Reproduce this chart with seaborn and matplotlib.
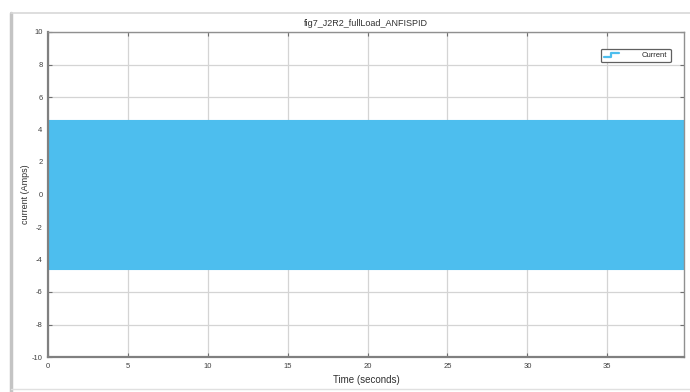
import matplotlib
matplotlib.use("Agg")
import matplotlib.pyplot as plt
import seaborn as sns
import pandas as pd
from matplotlib.lines import Line2D
from matplotlib.legend_handler import HandlerBase

# Envelope of the oscillating phase current (A) over the run
time_s = [0.0, 10.0, 20.0, 30.0, 39.8]
current_upper = [4.6, 4.6, 4.6, 4.6, 4.6]
current_lower = [-4.6, -4.6, -4.6, -4.6, -4.6]

x_ticks = [0, 5, 10, 15, 20, 25, 30, 35]
y_ticks = [-10, -8, -6, -4, -2, 0, 2, 4, 6, 8, 10]

title = "fig7_J2R2_fullLoad_ANFISPID"
series_name = "Current"
color = "#4DBEEE"

sns.set_theme(style="white")
plt.rcParams["font.family"] = ["Liberation Sans", "DejaVu Sans"]
plt.rcParams["axes.unicode_minus"] = False

fig = plt.figure(figsize=(6.9, 3.92), dpi=100)
ax = fig.add_axes([48 / 690, 1 - 357 / 392, (684 - 48) / 690, (357 - 32) / 392])

df = pd.DataFrame({"t": time_s, "hi": current_upper, "lo": current_lower})
sns.lineplot(data=df, x="t", y="hi", color=color, lw=0.8, ax=ax, legend=False)
sns.lineplot(data=df, x="t", y="lo", color=color, lw=0.8, ax=ax, legend=False)
ax.fill_between(df["t"], df["lo"], df["hi"], color=color, lw=0, zorder=2)

ax.set_xlim(0, 39.8)
ax.set_ylim(-10, 10)
ax.set_xticks(x_ticks)
ax.set_yticks(y_ticks)
ax.tick_params(direction="in", length=3, width=0.8, color="#707070",
               labelsize=5.5, labelcolor="#404040", pad=4,
               top=True, right=True, left=True, bottom=True)
ax.grid(True, color="#d4d4d4", lw=0.9)
ax.set_axisbelow(True)
for side in ["left", "bottom"]:
    ax.spines[side].set_color("#808080")
    ax.spines[side].set_linewidth(1.6)
for side in ["top", "right"]:
    ax.spines[side].set_color("#909090")
    ax.spines[side].set_linewidth(1.0)

ax.set_title(title, fontsize=6.5, color="#303030", pad=4)
ax.set_xlabel("Time (seconds)", fontsize=7, color="#303030", labelpad=4)
ax.set_ylabel("current (Amps)", fontsize=6.5, color="#303030")
ax.yaxis.set_label_coords(-0.028, 0.5)


class StepHandler(HandlerBase):
    def create_artists(self, legend, orig_handle, xd, yd, w, h, fontsize, trans):
        xs = [xd, xd + 0.4 * w, xd + 0.4 * w, xd + 0.85 * w]
        ys = [yd - 0.05 * h, yd - 0.05 * h, yd + 0.85 * h, yd + 0.85 * h]
        ln = Line2D(xs, ys, color=color, lw=1.6, transform=trans)
        return [ln]


handle = Line2D([], [], color=color)
leg = ax.legend([handle], [series_name], loc="upper right",
                bbox_to_anchor=(0.985, 0.96), fontsize=5.5,
                handler_map={Line2D: StepHandler()},
                handlelength=2.4, handletextpad=2.6, borderpad=0.4,
                fancybox=True, framealpha=1, edgecolor="#606060")
leg.get_frame().set_linewidth(0.9)

# Surrounding window frame
fig.add_artist(Line2D([11 / 690, 11 / 690], [0, 1 - 13 / 392],
                      transform=fig.transFigure, color="#c4c4c4", lw=2.5))
fig.add_artist(Line2D([11 / 690, 1], [1 - 13 / 392, 1 - 13 / 392],
                      transform=fig.transFigure, color="#d8d8d8", lw=1.2))
fig.add_artist(Line2D([11 / 690, 1], [1 - 389 / 392, 1 - 389 / 392],
                      transform=fig.transFigure, color="#e0e0e0", lw=1.0))

fig.savefig("out.png", dpi=100)
